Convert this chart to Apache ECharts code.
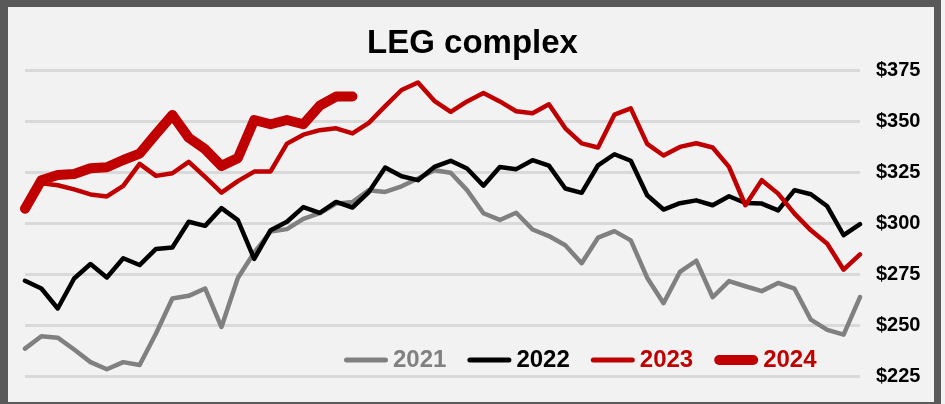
<!DOCTYPE html>
<html>
<head>
<meta charset="utf-8">
<script src="https://cdn.jsdelivr.net/npm/echarts@6/dist/echarts.min.js"></script>
<style>
  html, body { margin: 0; padding: 0; background: #f2f2f2; }
  #wrap { position: relative; width: 945px; height: 404px; background: #f2f2f2; overflow: hidden; }
  #chart { position: absolute; left: 0; top: 0; width: 945px; height: 404px; }
  .bd { position: absolute; background: #595959; }
</style>
</head>
<body>
<div id="wrap">
  <div id="chart"></div>
  <div class="bd" style="left:0;top:0;width:941px;height:7px;"></div>
  <div class="bd" style="left:0;top:0;width:8px;height:404px;"></div>
  <div class="bd" style="left:934px;top:0;width:7px;height:404px;"></div>
  <div class="bd" style="left:0;top:402px;width:941px;height:2px;"></div>
</div>
<script>
const weeks = Array.from({ length: 52 }, (_, i) => String(i + 1));
const yTicks = [225, 250, 275, 300, 325, 350, 375];
const seriesNames = ['2021', '2022', '2023', '2024'];

const y2021 = [238.4, 244.5, 243.8, 238.0, 231.8, 228.3, 231.8, 230.4, 245.8, 263.0,
  264.3, 267.9, 249.0, 273.0, 285.5, 295.8, 297.0, 302.0, 304.8, 309.5,
  310.3, 316.1, 315.2, 318.0, 321.8, 325.9, 324.6, 316.1, 304.8, 301.5,
  305.0, 296.8, 293.6, 289.1, 280.3, 292.8, 296.0, 291.5, 273.2, 260.7,
  276.0, 281.5, 263.6, 271.5, 269.0, 266.6, 270.6, 267.8, 252.6, 247.6,
  245.3, 263.7];

const y2022 = [271.7, 267.9, 258.1, 272.8, 279.9, 273.3, 282.7, 279.4, 287.3, 288.0,
  300.6, 298.6, 307.3, 301.4, 282.4, 296.5, 300.6, 307.8, 305.0, 310.3,
  307.6, 315.2, 327.2, 322.9, 321.0, 327.5, 330.5, 326.7, 318.3, 327.4,
  326.4, 330.8, 328.1, 316.9, 314.8, 328.3, 333.7, 330.5, 313.6, 306.6,
  309.7, 311.1, 308.7, 313.1, 309.8, 309.5, 306.2, 316.1, 314.1, 308.2,
  294.0, 299.4];

const y2023 = [308.0, 319.5, 318.5, 316.5, 314.0, 313.0, 318.2, 329.0, 323.1, 324.4,
  330.0, 322.6, 314.9, 320.5, 325.2, 325.3, 338.9, 343.3, 345.5, 346.4,
  343.9, 349.1, 357.3, 365.2, 368.9, 359.9, 354.5, 359.6, 363.7, 359.6,
  354.8, 353.8, 358.2, 346.4, 339.0, 337.0, 353.1, 356.2, 338.8, 333.1,
  337.3, 339.1, 337.0, 327.5, 308.7, 321.0, 314.4, 304.6, 296.4, 289.8,
  277.1, 284.6];

const y2024 = [307.0, 321.0, 323.5, 324.0, 326.8, 327.3, 330.9, 334.0, 343.6, 353.0,
  341.8, 336.2, 328.0, 331.8, 350.5, 348.4, 350.5, 348.4, 357.5, 362.0,
  362.0];

const colors = { '2021': '#808080', '2022': '#000000', '2023': '#c00000', '2024': '#c00000' };
const widths = { '2021': 4.5, '2022': 4.5, '2023': 4.5, '2024': 10 };
const dataMap = { '2021': y2021, '2022': y2022, '2023': y2023, '2024': y2024 };

const thinIcon = 'path://M2.5,0 L41.5,0 A2.5,2.5 0 0 1 41.5,5 L2.5,5 A2.5,2.5 0 0 1 2.5,0 Z';
const thickIcon = 'path://M5,0 L39,0 A5,5 0 0 1 39,10 L5,10 A5,5 0 0 1 5,0 Z';
const icons = { '2021': thinIcon, '2022': thinIcon, '2023': thinIcon, '2024': thickIcon };

const FONT = '"Liberation Sans", Arial, sans-serif';

const chart = echarts.init(document.getElementById('chart'), null, { renderer: 'canvas' });
chart.setOption({
  animation: false,
  backgroundColor: 'transparent',
  title: {
    text: 'LEG complex',
    left: 'center',
    top: 22,
    textStyle: { fontFamily: FONT, fontSize: 33, fontWeight: 'bold', color: '#000' }
  },
  grid: { left: 25, right: 85, top: 70, bottom: 28 },
  xAxis: {
    type: 'category',
    data: weeks,
    boundaryGap: false,
    show: false
  },
  yAxis: {
    type: 'value',
    position: 'right',
    min: yTicks[0],
    max: yTicks[yTicks.length - 1],
    interval: 25,
    axisLine: { show: false },
    axisTick: { show: false },
    axisLabel: {
      formatter: v => '$' + v,
      fontFamily: FONT,
      fontSize: 20,
      fontWeight: 'bold',
      color: '#000',
      margin: 16
    },
    splitLine: { lineStyle: { color: '#d9d9d9', width: 3 } }
  },
  legend: {
    left: 339,
    top: 343,
    itemWidth: 44,
    itemHeight: 10,
    itemGap: 21,
    data: seriesNames.map(n => ({
      name: n,
      icon: icons[n],
      itemStyle: { color: colors[n] },
      textStyle: { color: colors[n], fontFamily: FONT, fontSize: 24, fontWeight: 'bold' }
    }))
  },
  series: seriesNames.map((n, k) => ({
    name: n,
    type: 'line',
    data: dataMap[n],
    symbol: 'none',
    z: 2 + k,
    color: colors[n],
    lineStyle: { color: colors[n], width: widths[n], cap: 'round', join: 'round' }
  }))
});
</script>
</body>
</html>
